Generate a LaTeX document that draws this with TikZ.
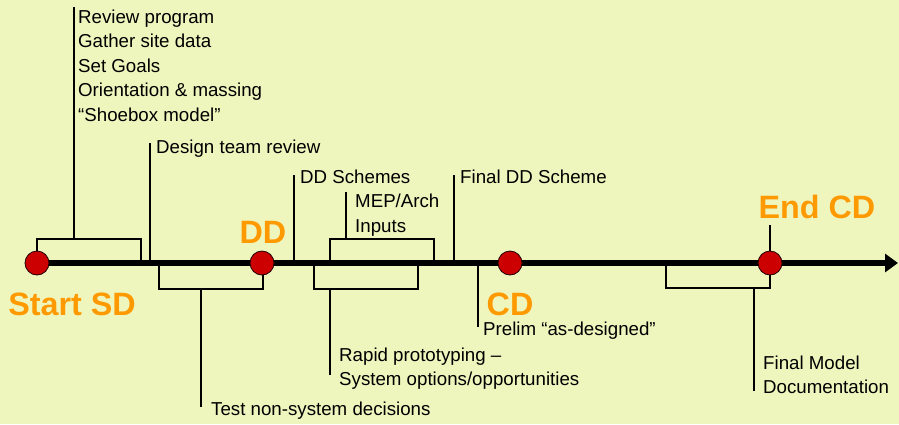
\documentclass[tikz,border=0pt]{standalone}
\usepackage{fontspec}
\setmainfont{Liberation Sans}
\usetikzlibrary{arrows.meta}
\definecolor{bg}{RGB}{238,246,189}
\definecolor{phase}{RGB}{255,153,0}
\definecolor{dot}{RGB}{204,0,0}

\begin{document}
\begin{tikzpicture}[x=1pt,y=-1pt,
  note/.style={anchor=base west,inner sep=0pt,align=left,
    font=\fontsize{18.7}{24.5}\selectfont},
  phaselabel/.style={anchor=base,inner sep=0pt,text=phase,
    font=\fontsize{32.3}{32}\selectfont\bfseries},
  milestone/.style={circle,fill=dot,draw=black!85!dot,line width=0.8pt,
    minimum size=24pt,inner sep=0pt},
  lead/.style={line width=2.5pt},
  axis/.style={line width=6.5pt,-{Triangle[length=13pt,width=18pt]}}]

% page and background
\useasboundingbox (0,0) rectangle (899,424);
\fill[bg] (0,0) rectangle (899,424);

% milestone positions on the time axis
\coordinate (pSD) at (37,263);
\coordinate (pDD) at (262,263);
\coordinate (pCD) at (510,263);
\coordinate (pEnd) at (770,263);
\coordinate (tip) at (898,263);

% bracket above: start of SD
\coordinate (aL) at (37,239);
\coordinate (aR) at (141,239);
\coordinate (aR0) at (141,263);
\coordinate (aM) at (74,239);
\coordinate (aTop) at (74,7);
\draw[lead] (pSD) -- (aL) -- (aR) -- (aR0);
\draw[lead] (aM) -- (aTop);

% design team review
\coordinate (tBot) at (150,263);
\coordinate (tTop) at (150,143);
\draw[lead] (tBot) -- (tTop);

% bracket below: SD to DD
\coordinate (bL0) at (159,263);
\coordinate (bL) at (159,289);
\coordinate (bR) at (263,289);
\coordinate (bR0) at (263,263);
\coordinate (bM) at (201,289);
\coordinate (bBot) at (201,407);
\draw[lead] (bL0) -- (bL) -- (bR) -- (bR0);
\draw[lead] (bM) -- (bBot);

% DD schemes
\coordinate (sBot) at (294,263);
\coordinate (sTop) at (294,175);
\draw[lead] (sBot) -- (sTop);

% bracket above: MEP/Arch inputs
\coordinate (cL0) at (330,263);
\coordinate (cL) at (330,239);
\coordinate (cR) at (434,239);
\coordinate (cR0) at (434,263);
\coordinate (cM) at (346,239);
\coordinate (cTop) at (346,192);
\draw[lead] (cL0) -- (cL) -- (cR) -- (cR0);
\draw[lead] (cM) -- (cTop);

% bracket below: rapid prototyping
\coordinate (rL0) at (314,263);
\coordinate (rL) at (314,289);
\coordinate (rR) at (418,289);
\coordinate (rR0) at (418,263);
\coordinate (rM) at (330,289);
\coordinate (rBot) at (330,375);
\draw[lead] (rL0) -- (rL) -- (rR) -- (rR0);
\draw[lead] (rM) -- (rBot);

% final DD scheme
\coordinate (fBot) at (454,263);
\coordinate (fTop) at (454,175);
\draw[lead] (fBot) -- (fTop);

% preliminary as-designed model
\coordinate (pTop) at (478,263);
\coordinate (pBot) at (478,327);
\draw[lead] (pTop) -- (pBot);

% bracket below: final model documentation
\coordinate (eL0) at (666,263);
\coordinate (eL) at (666,288);
\coordinate (eR) at (770,288);
\coordinate (eM) at (754,288);
\coordinate (eBot) at (754,391);
\draw[lead] (eL0) -- (eL) -- (eR) -- (pEnd);
\draw[lead] (eM) -- (eBot);

% end of CD tick
\coordinate (endTop) at (770,225);
\draw[lead] (endTop) -- (pEnd);

% time axis
\draw[axis] (pSD) -- (tip);

% milestones
\node[milestone] (msSD) at (pSD) {};
\node[milestone] (msDD) at (pDD) {};
\node[milestone] (msCD) at (pCD) {};
\node[milestone] (msEnd) at (pEnd) {};

% phase labels
\node[phaselabel] (lSD) at (72,315) {Start SD};
\node[phaselabel] (lDD) at (263,243) {DD};
\node[phaselabel] (lCD) at (510,315) {CD};
\node[phaselabel] (lEnd) at (817,218) {End CD};

% task notes (multi-line notes sit on the baseline of their last line)
\node[note] (nReview) at (78,121) {Review program\\Gather site data\\Set Goals\\Orientation \& massing\\“Shoebox model”};
\node[note] (nDesign) at (156,153) {Design team review};
\node[note] (nTest) at (211,415) {Test non-system decisions};
\node[note] (nSchemes) at (300,183) {DD Schemes};
\node[note,font=\fontsize{18.7}{25}\selectfont] (nMEP) at (355,232) {MEP/Arch\\Inputs};
\node[note,font=\fontsize{18.7}{24}\selectfont] (nRapid) at (339,385) {Rapid prototyping –\\System options/opportunities};
\node[note] (nFinalDD) at (460,183) {Final DD Scheme};
\node[note] (nPrelim) at (483,335) {Prelim “as-designed”};
\node[note,font=\fontsize{18.7}{23.5}\selectfont] (nFinal) at (763,393) {Final Model\\Documentation};
\end{tikzpicture}
\end{document}
